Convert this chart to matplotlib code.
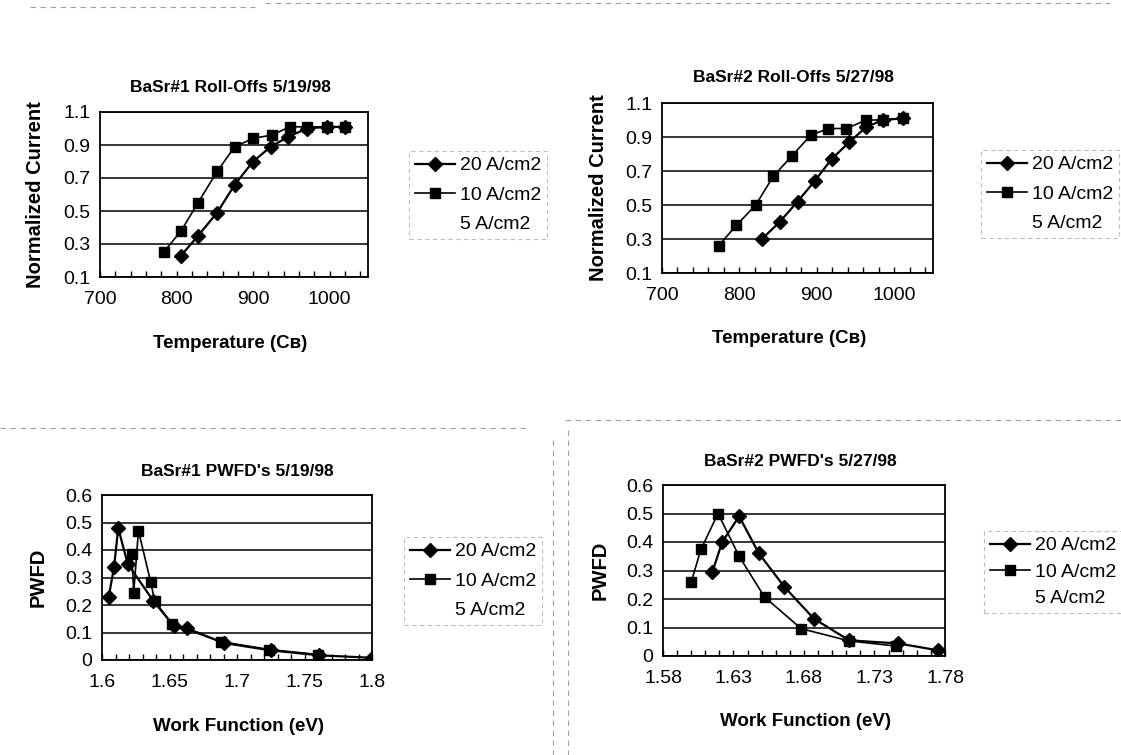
import numpy as np
import matplotlib
matplotlib.use("Agg")
import matplotlib.pyplot as plt
from matplotlib.lines import Line2D
from matplotlib.ticker import MultipleLocator, FixedLocator

plt.rcParams['font.family'] = ['Liberation Sans', 'DejaVu Sans']

# --- data ---
# BaSr#1 roll-offs 5/19/98
ro1_t20 = [806, 828, 853, 876, 900, 923, 946, 970, 996, 1020]
ro1_i20 = [0.23, 0.35, 0.49, 0.66, 0.80, 0.89, 0.95, 1.00, 1.01, 1.01]
ro1_t10 = [783, 806, 828, 853, 876, 900, 924, 948, 970, 996, 1020]
ro1_i10 = [0.25, 0.38, 0.55, 0.74, 0.89, 0.94, 0.96, 1.01, 1.01, 1.01, 1.01]

# BaSr#2 roll-offs 5/27/98
ro2_t20 = [829, 852, 875, 897, 919, 942, 964, 986, 1011]
ro2_i20 = [0.30, 0.40, 0.52, 0.64, 0.77, 0.87, 0.96, 1.00, 1.01]
ro2_t10 = [773, 796, 821, 844, 868, 892, 915, 938, 964, 986, 1011]
ro2_i10 = [0.26, 0.38, 0.50, 0.67, 0.79, 0.91, 0.95, 0.95, 1.00, 1.00, 1.01]

# BaSr#1 PWFD 5/19/98
pw1_w20 = [1.605, 1.609, 1.612, 1.619, 1.638, 1.653, 1.663, 1.690, 1.725, 1.761, 1.800]
pw1_p20 = [0.23, 0.34, 0.48, 0.35, 0.215, 0.125, 0.115, 0.062, 0.035, 0.017, 0.008]
pw1_w10 = [1.622, 1.6235, 1.627, 1.636, 1.639, 1.652, 1.688, 1.724, 1.760]
pw1_p10 = [0.385, 0.245, 0.47, 0.285, 0.215, 0.13, 0.067, 0.038, 0.02]

# BaSr#2 PWFD 5/27/98
pw2_w20 = [1.615, 1.622, 1.634, 1.648, 1.666, 1.687, 1.712, 1.747, 1.775]
pw2_p20 = [0.295, 0.40, 0.49, 0.36, 0.243, 0.131, 0.055, 0.044, 0.02]
pw2_w10 = [1.600, 1.607, 1.619, 1.634, 1.652, 1.678, 1.712, 1.745]
pw2_p10 = [0.26, 0.375, 0.50, 0.35, 0.207, 0.096, 0.053, 0.035]

labels = ['20 A/cm2', '10 A/cm2', '5 A/cm2']

# axis tick values
temp_ticks = [700, 800, 900, 1000]
curr_ticks = [0.1, 0.3, 0.5, 0.7, 0.9, 1.1]
wf1_ticks = [1.6, 1.65, 1.7, 1.75, 1.8]
wf2_ticks = [1.58, 1.63, 1.68, 1.73, 1.78]
pwfd_ticks = [0, 0.1, 0.2, 0.3, 0.4, 0.5, 0.6]

W, H = 1121, 755
fig = plt.figure(figsize=(W / 100, H / 100), dpi=100)


def px_rect(l, t, r, b):
    return [l / W, 1 - b / H, (r - l) / W, (b - t) / H]


def draw_panel(rect, x20, y20, x10, y10, xlim, xticks, xminor, ylim, yticks,
               title, title_xy, xlabel, xlab_xy, ylabel, ylab_xy, leg_xy, leg_sp=0.6):
    ax = fig.add_axes(px_rect(*rect))
    ax.plot(x20, y20, color='black', lw=1.6, marker='D', ms=7.5, label=labels[0])
    ax.plot(x10, y10, color='black', lw=1.2, marker='s', ms=7.5, label=labels[1])
    ax.plot([], [], color='none', label=labels[2])
    ax.set_xlim(*xlim)
    ax.set_ylim(*ylim)
    ax.set_xticks(xticks)
    ax.set_xticklabels([f'{v:g}' for v in xticks])
    ax.xaxis.set_minor_locator(FixedLocator(
        np.arange(xlim[0], xlim[1] + xminor / 2, xminor)))
    ax.set_yticks(yticks)
    ax.set_yticklabels([f'{v:g}' for v in yticks])
    ax.grid(axis='y', color='black', lw=1.1)
    ax.set_axisbelow(True)
    for s in ax.spines.values():
        s.set_linewidth(1.3)
    ax.tick_params(axis='x', which='both', direction='in', length=4, width=1,
                   labelsize=14, pad=10, top=False)
    ax.tick_params(axis='y', direction='in', length=0, labelsize=14, pad=7)
    ax.set_xlabel(xlabel, fontsize=13.5, fontweight='bold')
    ax.xaxis.set_label_coords(*xlab_xy)
    ax.set_ylabel(ylabel, fontsize=14.5, fontweight='bold')
    ax.yaxis.set_label_coords(*ylab_xy)
    fig.text(title_xy[0] / W, 1 - title_xy[1] / H, title, fontsize=12.5,
             fontweight='bold', ha='center', va='center')
    leg = ax.legend(loc='upper left', bbox_to_anchor=(leg_xy[0] / W, 1 - leg_xy[1] / H),
                    bbox_transform=fig.transFigure, fontsize=14, frameon=True,
                    fancybox=False, handlelength=2.05, handletextpad=0.25,
                    labelspacing=leg_sp, borderpad=0.3, borderaxespad=0)
    fr = leg.get_frame()
    fr.set_edgecolor('#b0b0b0')
    fr.set_linestyle((0, (4, 3)))
    fr.set_linewidth(0.8)
    return ax


draw_panel((100, 112, 368, 277), ro1_t20, ro1_i20, ro1_t10, ro1_i10,
           (700, 1050), temp_ticks, 20, (0.1, 1.1), curr_ticks,
           'BaSr#1 Roll-Offs 5/19/98', (230, 87), 'Temperature (C\u0432)', (0.485, -0.35),
           'Normalized Current', (-0.205, 0.5), (409, 151))

draw_panel((662, 103, 933, 273), ro2_t20, ro2_i20, ro2_t10, ro2_i10,
           (700, 1050), temp_ticks, 20, (0.1, 1.1), curr_ticks,
           'BaSr#2 Roll-Offs 5/27/98', (793, 77), 'Temperature (C\u0432)', (0.47, -0.335),
           'Normalized Current', (-0.2, 0.5), (981, 150))

draw_panel((102, 495, 372, 660), pw1_w20, pw1_p20, pw1_w10, pw1_p10,
           (1.6, 1.8), wf1_ticks, 0.01, (0, 0.6), pwfd_ticks,
           "BaSr#1 PWFD's 5/19/98", (237, 471), 'Work Function (eV)', (0.505, -0.35),
           'PWFD', (-0.2, 0.5), (404, 537))

draw_panel((663, 485, 945, 656), pw2_w20, pw2_p20, pw2_w10, pw2_p10,
           (1.58, 1.78), wf2_ticks, 0.01, (0, 0.6), pwfd_ticks,
           "BaSr#2 PWFD's 5/27/98", (800, 461), 'Work Function (eV)', (0.504, -0.333),
           'PWFD', (-0.188, 0.5), (984, 531), leg_sp=0.45)

# faint dashed sheet dividers from the scan
for (x0, y0, x1, y1) in [(30, 7, 255, 7), (265, 3, 1110, 3), (0, 428, 528, 428),
                         (565, 420, 1121, 420), (553, 440, 553, 755), (568, 430, 568, 755)]:
    fig.add_artist(Line2D([x0 / W, x1 / W], [1 - y0 / H, 1 - y1 / H], color='#a0a0a0',
                          lw=0.8, ls=(0, (5, 4))))

fig.savefig('out.png', dpi=100)
